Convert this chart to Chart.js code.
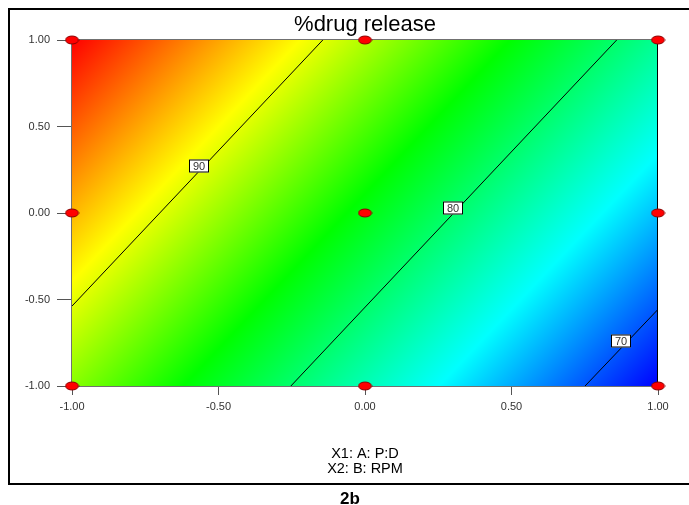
<!DOCTYPE html>
<html><head><meta charset="utf-8">
<script src="https://cdn.jsdelivr.net/npm/chart.js@4.4.0/dist/chart.umd.min.js"></script>
<style>
html,body{margin:0;padding:0;background:#fff;width:689px;height:505px;overflow:hidden;position:relative}
#frame{position:absolute;left:8px;top:8px;width:679px;height:473px;border-left:2px solid #000;border-top:2px solid #000;border-bottom:2px solid #000}
#cv{position:absolute;left:0;top:0}
#cap{position:absolute;left:340px;top:490px;font:bold 17px 'Liberation Sans',Arial,sans-serif;line-height:17px;color:#000}
</style></head>
<body>
<div id="frame"></div>
<canvas id="cv" width="689" height="505"></canvas>
<div id="cap">2b</div>
<script>
const FONT = "'Liberation Sans', Arial, sans-serif";
const chartTitle = '%drug release';
const axisTitleLines = ['X1: A: P:D', 'X2: B: RPM'];
const xTickValues = [-1, -0.5, 0, 0.5, 1];
const xTickLabels = ['-1.00', '-0.50', '0.00', '0.50', '1.00'];
const yTickValues = [-1, -0.5, 0, 0.5, 1];
const yTickLabels = ['-1.00', '-0.50', '0.00', '0.50', '1.00'];
const designX = [-1, 0, 1, -1, 0, 1, -1, 0, 1];
const designY = [-1, -1, -1, 0, 0, 0, 1, 1, 1];
const contourLevels = [90, 80, 70];
const contourX = [[-1, -0.144], [-0.253, 0.859], [0.751, 1]];
const contourY = [[-0.538, 1], [-1, 1], [-1, -0.557]];
const contourLabelX = [-0.567, 0.300, 0.874];
const contourLabelY = [0.272, 0.031, -0.740];
const surfaceX = [-1, 1];
const surfaceY = [-1, 1];
const surfaceZ = [[87.4, 67.5], [98.5, 78.6]]; // rows: y=-1, y=1 ; cols: x=-1, x=1
const colorScale = ['#0000ff', '#00ffff', '#00ff00', '#ffff00', '#ff0000']; // low -> high
const colorStops = [0, 0.24, 0.52, 0.75, 1];

const dot = document.createElement('canvas');
dot.width = 15; dot.height = 10;
(function(){
  const d = dot.getContext('2d');
  d.beginPath(); d.ellipse(7.5, 5, 6.5, 4, 0, 0, Math.PI * 2);
  d.fillStyle = '#ff0000'; d.fill();
  d.strokeStyle = '#8a0000'; d.lineWidth = 1; d.stroke();
})();

const surfacePlugin = {
  id: 'surface',
  beforeDatasetsDraw(chart) {
    const {ctx, chartArea: a, scales: {x, y}} = chart;
    const dzdx = (surfaceZ[0][1] - surfaceZ[0][0]) / (surfaceX[1] - surfaceX[0]);
    const dzdy = (surfaceZ[1][0] - surfaceZ[0][0]) / (surfaceY[1] - surfaceY[0]);
    const pxu = x.getPixelForValue(1) - x.getPixelForValue(0);
    const pyu = y.getPixelForValue(1) - y.getPixelForValue(0);
    const gx = dzdx / pxu, gy = dzdy / pyu;
    const zs = surfaceZ.flat();
    const zmin = Math.min(...zs), zmax = Math.max(...zs);
    const zc = surfaceZ[0][0];
    const cx = x.getPixelForValue(surfaceX[0]), cy = y.getPixelForValue(surfaceY[0]);
    const g2 = gx * gx + gy * gy;
    const k0 = (zmin - zc) / g2, k1 = (zmax - zc) / g2;
    const grad = ctx.createLinearGradient(cx + gx * k0, cy + gy * k0, cx + gx * k1, cy + gy * k1);
    colorScale.forEach((c, i) => grad.addColorStop(colorStops[i], c));
    ctx.save();
    ctx.fillStyle = grad;
    ctx.fillRect(a.left, a.top, a.right - a.left, a.bottom - a.top);
    ctx.lineWidth = 1;
    ctx.strokeStyle = '#707070';
    ctx.beginPath();
    ctx.moveTo(a.right - 0.5, a.top - 0.5); ctx.lineTo(a.left - 0.5, a.top - 0.5);
    ctx.lineTo(a.left - 0.5, a.bottom + 0.5); ctx.lineTo(a.right - 0.5, a.bottom + 0.5);
    ctx.stroke();
    ctx.strokeStyle = '#000';
    ctx.beginPath(); ctx.moveTo(a.right - 0.5, a.top - 0.5); ctx.lineTo(a.right - 0.5, a.bottom + 0.5); ctx.stroke();
    ctx.restore();
  }
};

const labelPlugin = {
  id: 'contourLabels',
  afterDatasetsDraw(chart) {
    const {ctx, scales: {x, y}} = chart;
    ctx.save();
    ctx.font = '11px ' + FONT;
    ctx.textAlign = 'center';
    ctx.textBaseline = 'middle';
    contourLevels.forEach((lv, i) => {
      const px = Math.round(x.getPixelForValue(contourLabelX[i]));
      const py = Math.round(y.getPixelForValue(contourLabelY[i]));
      const t = String(lv);
      const w = Math.round(ctx.measureText(t).width) + 8, h = 13;
      ctx.fillStyle = '#fff';
      ctx.fillRect(px - w / 2, py - h / 2, w, h);
      ctx.strokeStyle = '#000'; ctx.lineWidth = 1;
      ctx.strokeRect(px - w / 2 + 0.5, py - h / 2 + 0.5, w - 1, h - 1);
      ctx.fillStyle = '#333';
      ctx.fillText(t, px, py + 0.5);
    });
    ctx.restore();
  }
};

new Chart(document.getElementById('cv'), {
  type: 'scatter',
  data: {
    datasets: [
      {
        label: 'Design points',
        data: designX.map((v, i) => ({x: v, y: designY[i]})),
        pointStyle: dot, pointRadius: 6, clip: false, order: 0, showLine: false
      },
      ...contourLevels.map((lv, i) => ({
        label: String(lv),
        data: contourX[i].map((v, j) => ({x: v, y: contourY[i][j]})),
        showLine: true, borderColor: '#000', borderWidth: 1, pointRadius: 0, order: 1, fill: false
      }))
    ]
  },
  options: {
    responsive: false, animation: false, devicePixelRatio: 1,
    layout: {padding: {left: 0, right: 31, top: 0, bottom: 0}},
    plugins: {
      legend: {display: false},
      tooltip: {enabled: false},
      title: {display: false}
    },
    scales: {
      x: {
        type: 'linear', min: -1, max: 1, position: 'bottom',
        afterBuildTicks: s => { s.ticks = xTickValues.map(v => ({value: v})); },
        ticks: {callback: (v, i) => xTickLabels[i], color: '#333', font: {family: FONT, size: 11}, padding: 5, maxRotation: 0, autoSkip: false},
        grid: {display: true, drawOnChartArea: false, drawTicks: true, tickLength: 9, color: '#555'},
        border: {display: false},
        title: {display: true, text: axisTitleLines, color: '#000', font: {family: FONT, size: 14.5, lineHeight: 1}, padding: {top: 0, bottom: 29}},
        afterFit: s => { s.height = 119; }
      },
      xTop: {
        type: 'linear', axis: 'x', min: -1, max: 1, position: 'top',
        ticks: {display: false},
        grid: {display: false, drawTicks: false},
        border: {display: false},
        title: {display: true, text: chartTitle, color: '#000', font: {family: FONT, size: 22, weight: 'normal', lineHeight: 1.2}, padding: {top: 12, bottom: 0}},
        afterFit: s => { s.height = 40; }
      },
      y: {
        type: 'linear', min: -1, max: 1,
        afterBuildTicks: s => { s.ticks = yTickValues.map(v => ({value: v})); },
        ticks: {callback: (v, i) => yTickLabels[i], color: '#333', font: {family: FONT, size: 11}, padding: 7, autoSkip: false},
        grid: {display: true, drawOnChartArea: false, drawTicks: true, tickLength: 15, color: '#555'},
        border: {display: false},
        afterFit: s => { s.width = 72; }
      }
    }
  },
  plugins: [surfacePlugin, labelPlugin]
});
</script>
</body></html>
